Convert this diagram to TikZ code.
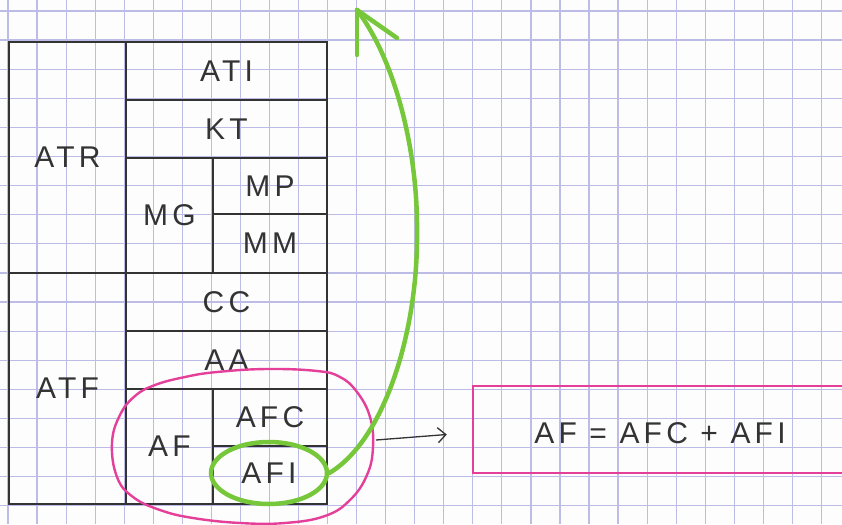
\documentclass[tikz,border=0pt]{standalone}
\usepackage{fontspec}
\newfontfamily\hand[LetterSpace=14]{Liberation Sans}
\usetikzlibrary{shapes.geometric,arrows.meta}
\definecolor{gridc}{HTML}{BCBCE6}
\definecolor{ink}{HTML}{333333}
\definecolor{penpink}{HTML}{E4409A}
\definecolor{pengreen}{HTML}{76C83A}
\definecolor{paper}{HTML}{FDFDFE}
\begin{document}
\begin{tikzpicture}[x=1pt,y=-1pt,
  gridline/.style={gridc,line width=1.2pt},
  cell/.style={draw=ink,line width=2.2pt,rectangle,inner sep=0pt,
     font=\hand\fontsize{30}{34}\selectfont,text=ink},
  pinkline/.style={penpink,line width=2.4pt},
  greenline/.style={pengreen,line width=4.5pt,line cap=round,line join=round},
  label/.style={font=\hand\fontsize{30}{34}\selectfont,text=ink,inner sep=0pt}]
\useasboundingbox (0,0) rectangle (842,524);
\fill[paper] (0,0) rectangle (842,524);
% graph paper
\foreach \i in {0,...,29} \draw[gridline] ({8+29.05*\i},0) -- ({8+29.05*\i},524);
\foreach \j in {0,...,18} \draw[gridline] (0,{11+29.1*\j}) -- (842,{11+29.1*\j});
% cells
\node[cell,minimum width=117pt,minimum height=231pt] (atr) at (67.5,157.5) {ATR};
\node[cell,minimum width=117pt,minimum height=231pt] (atf) at (67.5,388.5) {ATF};
\node[cell,minimum width=201pt,minimum height=58pt] (ati) at (226.5,71) {ATI};
\node[cell,minimum width=201pt,minimum height=58pt] (kt) at (226.5,129) {KT};
\node[cell,minimum width=87pt,minimum height=115pt] (mg) at (169.5,215.5) {MG};
\node[cell,minimum width=114pt,minimum height=56pt] (mp) at (270,186) {MP};
\node[cell,minimum width=114pt,minimum height=59pt] (mm) at (270,243.5) {MM};
\node[cell,minimum width=201pt,minimum height=58pt] (cc) at (226.5,302) {CC};
\node[cell,minimum width=201pt,minimum height=58pt] (aa) at (226.5,360) {AA};
\node[cell,minimum width=87pt,minimum height=115pt] (af) at (169.5,446.5) {AF};
\node[cell,minimum width=114pt,minimum height=57pt] (afc) at (270,417.5) {AFC};
\node[cell,minimum width=114pt,minimum height=58pt] (afi) at (270,475) {};
% pink loop around AF
\draw[pinkline] plot[smooth cycle,tension=0.7] coordinates {
 (112,443) (120,415) (135,396) (155,385) (185,377) (217,372) (267,369)
 (317,371) (340,377) (357,392) (370,417) (373,447) (367,475) (350,500)
 (325,516) (285,523) (240,523) (193,518) (160,510) (133,497) (117,477)};
\coordinate (pinkr) at (376,440);
% green loop around AFI
\node[ellipse,draw=pengreen,line width=4.5pt,minimum width=116pt,minimum height=62pt,
  label,inner sep=0pt] (gell) at (269,473) {AFI};
% green arrow
\coordinate (tip) at (357,10);
\draw[greenline] (gell.east) .. controls (385,440) and (418,330) .. (417,233)
  .. controls (418,150) and (395,60) .. (tip);
\draw[greenline] (tip) -- ++(0,45);
\draw[greenline] (tip) -- ++(40,28);
% equation box
\node[draw=penpink,line width=2.4pt,minimum width=380pt,minimum height=87pt,
  inner sep=0pt] (eqbox) at (663,429.5) {};
\node[label] (eq) at (660,433) {AF = AFC + AFI};
\draw[ink,line width=1.3pt,-{Straight Barb[length=8pt,width=15pt]}]
  (pinkr) -- ([xshift=-25pt,yshift=-5pt]eqbox.west);
\end{tikzpicture}
\end{document}
